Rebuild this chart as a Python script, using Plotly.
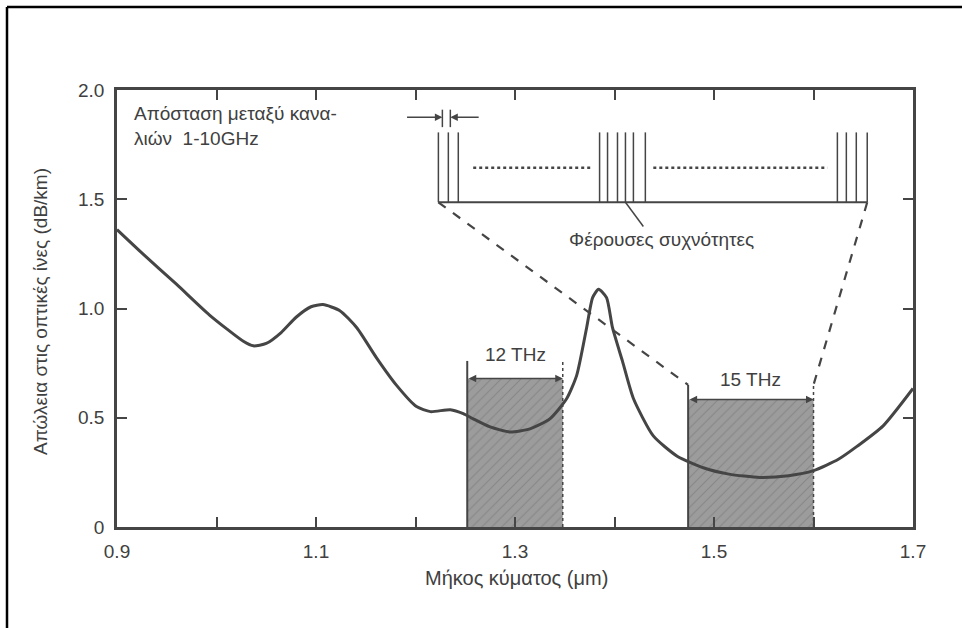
import plotly.graph_objects as go

# ---- data ----
wl = [0.900, 0.926, 0.960, 0.993, 1.027, 1.037, 1.050, 1.065, 1.080, 1.095, 1.107, 1.124, 1.141,
      1.161, 1.181, 1.201, 1.215, 1.235, 1.248, 1.258, 1.275, 1.295, 1.315, 1.335, 1.352,
      1.362, 1.372, 1.378, 1.384, 1.392, 1.398, 1.408, 1.419, 1.439, 1.463, 1.490, 1.515,
      1.546, 1.575, 1.600, 1.625, 1.644, 1.670, 1.700]
loss = [1.361, 1.25, 1.11, 0.97, 0.85, 0.829, 0.84, 0.89, 0.96, 1.008, 1.018, 0.99, 0.912,
        0.773, 0.648, 0.551, 0.528, 0.537, 0.519, 0.495, 0.458, 0.435, 0.449, 0.495, 0.588,
        0.694, 0.912, 1.05, 1.088, 1.05, 0.912, 0.759, 0.588, 0.417, 0.324, 0.27, 0.242,
        0.227, 0.235, 0.258, 0.31, 0.37, 0.463, 0.634]

band_labels = ["12 THz", "15 THz"]
band_start = [1.252, 1.474]
band_end = [1.348, 1.600]
band_top = [0.68, 0.583]
band_edge_top = [0.76, 0.65]
band_label_y = [0.79, 0.675]

x_tickvals = [0.9, 1.1, 1.3, 1.5, 1.7]
x_ticktext = ["0.9", "1.1", "1.3", "1.5", "1.7"]
y_tickvals = [0, 0.5, 1.0, 1.5, 2.0]
y_ticktext = ["0", "0.5", "1.0", "1.5", "2.0"]

# inset (schematic channel comb)
inset_base = 1.486
inset_top = 1.806
inset_left = 1.223
inset_right = 1.654
carriers_a = [1.223, 1.233, 1.243]
carriers_b = [1.385, 1.393, 1.403, 1.411, 1.419, 1.431]
carriers_c = [1.624, 1.633, 1.643, 1.654]
dots_1 = [1.258, 1.377]
dots_2 = [1.439, 1.614]
dots_y = 1.644
spacing_marks = [1.227, 1.235]
spacing_y = 1.875
zoom_left_end = [1.474, 0.65]
zoom_right_end = [1.600, 0.65]

INK = "#454545"
TXT = "#404040"
FONT = "Liberation Sans"

fig = go.Figure()

# hatched bands
for i in range(2):
    x0, x1, t = band_start[i], band_end[i], band_top[i]
    fig.add_trace(go.Scatter(
        x=[x0, x1, x1, x0, x0], y=[0, 0, t, t, 0], mode="lines",
        line=dict(width=0), fill="toself", fillcolor="#9a9a9a",
        fillpattern=dict(shape="/", bgcolor="#9c9c9c", fgcolor="#707070",
                         size=7, solidity=0.15),
        hoverinfo="skip", showlegend=False))
    fig.add_trace(go.Scatter(x=[x0, x0], y=[0, band_edge_top[i]], mode="lines",
                             line=dict(color=INK, width=2), showlegend=False, hoverinfo="skip"))
    fig.add_trace(go.Scatter(x=[x1, x1], y=[0, band_edge_top[i]], mode="lines",
                             line=dict(color=INK, width=1.5, dash="dot"), showlegend=False, hoverinfo="skip"))
    fig.add_annotation(x=x1, y=t, ax=x0, ay=t, xref="x", yref="y", axref="x", ayref="y",
                       text="", showarrow=True, arrowhead=2, arrowside="end+start",
                       arrowsize=1, arrowwidth=1.5, arrowcolor=INK)
    fig.add_annotation(x=(x0 + x1) / 2, y=band_label_y[i], text=band_labels[i],
                       showarrow=False, font=dict(family=FONT, size=19, color=TXT))

# loss curve
fig.add_trace(go.Scatter(x=wl, y=loss, mode="lines",
                         line=dict(color=INK, width=3, shape="spline", smoothing=0.6),
                         showlegend=False, hoverinfo="skip"))

# dashed zoom lines
fig.add_trace(go.Scatter(x=[inset_left, zoom_left_end[0]], y=[inset_base, zoom_left_end[1]],
                         mode="lines", line=dict(color=INK, width=2.2, dash="dash"),
                         showlegend=False, hoverinfo="skip"))
fig.add_trace(go.Scatter(x=[inset_right, zoom_right_end[0]], y=[inset_base, zoom_right_end[1]],
                         mode="lines", line=dict(color=INK, width=2.2, dash="dash"),
                         showlegend=False, hoverinfo="skip"))

# inset baseline
fig.add_trace(go.Scatter(x=[inset_left, inset_right], y=[inset_base, inset_base], mode="lines",
                         line=dict(color=INK, width=2), showlegend=False, hoverinfo="skip"))
# carriers
cx, cy = [], []
for c in carriers_a + carriers_b + carriers_c:
    cx += [c, c, None]
    cy += [inset_base, inset_top, None]
fig.add_trace(go.Scatter(x=cx, y=cy, mode="lines", line=dict(color=INK, width=1.5),
                         showlegend=False, hoverinfo="skip"))
# dotted gaps
for d in (dots_1, dots_2):
    fig.add_trace(go.Scatter(x=d, y=[dots_y, dots_y], mode="lines",
                             line=dict(color=INK, width=2.5, dash="dot"),
                             showlegend=False, hoverinfo="skip"))
# spacing markers
sx, sy = [], []
for s in spacing_marks:
    sx += [s, s, None]
    sy += [spacing_y - 0.045, spacing_y + 0.035, None]
fig.add_trace(go.Scatter(x=sx, y=sy, mode="lines", line=dict(color=INK, width=1.5),
                         showlegend=False, hoverinfo="skip"))
fig.add_annotation(x=spacing_marks[0], y=spacing_y, ax=1.190, ay=spacing_y,
                   xref="x", yref="y", axref="x", ayref="y", text="", showarrow=True,
                   arrowhead=2, arrowsize=1, arrowwidth=1.5, arrowcolor=INK)
fig.add_annotation(x=spacing_marks[1], y=spacing_y, ax=1.265, ay=spacing_y,
                   xref="x", yref="y", axref="x", ayref="y", text="", showarrow=True,
                   arrowhead=2, arrowsize=1, arrowwidth=1.5, arrowcolor=INK)
# pointer to carriers label
fig.add_trace(go.Scatter(x=[1.411, 1.429], y=[inset_base, 1.375], mode="lines",
                         line=dict(color=INK, width=1.5), showlegend=False, hoverinfo="skip"))

fig.add_annotation(x=1.447, y=1.315, text="Φέρουσες συχνότητες", showarrow=False,
                   font=dict(family=FONT, size=19, color=TXT))
fig.add_annotation(x=0.915, y=1.95, text="Απόσταση μεταξύ κανα-<br>λιών  1-10GHz",
                   xanchor="left", yanchor="top", align="left", showarrow=False,
                   font=dict(family=FONT, size=19, color=TXT))

# axis titles
fig.add_annotation(xref="paper", yref="paper", x=(516 - 117) / 796, y=(527 - 578) / 437,
                   xanchor="center", yanchor="middle",
                   text="Μήκος κύματος (μm)", showarrow=False,
                   font=dict(family=FONT, size=20, color=TXT))
fig.add_annotation(xref="paper", yref="paper", x=(40 - 117) / 796, y=(527 - 312) / 437,
                   xanchor="center", yanchor="middle",
                   text="Απώλεια στις οπτικές ίνες (dB/km)", showarrow=False, textangle=-90,
                   font=dict(family=FONT, size=19, color=TXT))

# scan frame lines (top and left edges of picture)
fig.add_shape(type="line", xref="paper", yref="paper", x0=(7 - 117) / 796, x1=(962 - 117) / 796,
              y0=(527 - 7) / 437, y1=(527 - 7) / 437, line=dict(color="black", width=2.5))
fig.add_shape(type="line", xref="paper", yref="paper", x0=(7 - 117) / 796, x1=(7 - 117) / 796,
              y0=(527 - 7) / 437, y1=(527 - 628) / 437, line=dict(color="black", width=2.5))

fig.update_xaxes(range=[0.9, 1.7], tickvals=x_tickvals, ticktext=x_ticktext,
                 ticks="inside", ticklen=10, tickwidth=2, tickcolor=INK,
                 minor=dict(dtick=0.1, tick0=0.9, ticks="inside", ticklen=10, tickwidth=2, tickcolor=INK),
                 showline=True, linecolor=INK, linewidth=2.5, mirror="ticks",
                 showgrid=False, zeroline=False, ticklabelstandoff=5,
                 tickfont=dict(family=FONT, size=19, color=TXT))
fig.update_yaxes(range=[0, 2.0], tickvals=y_tickvals, ticktext=y_ticktext,
                 ticks="inside", ticklen=10, tickwidth=2, tickcolor=INK,
                 showline=True, linecolor=INK, linewidth=2.5, mirror="ticks",
                 showgrid=False, zeroline=False, ticklabelstandoff=6,
                 tickfont=dict(family=FONT, size=19, color=TXT))

fig.update_layout(width=962, height=628, margin=dict(l=117, r=49, t=90, b=101),
                  paper_bgcolor="white", plot_bgcolor="white", showlegend=False)

fig.write_html("out.html")
